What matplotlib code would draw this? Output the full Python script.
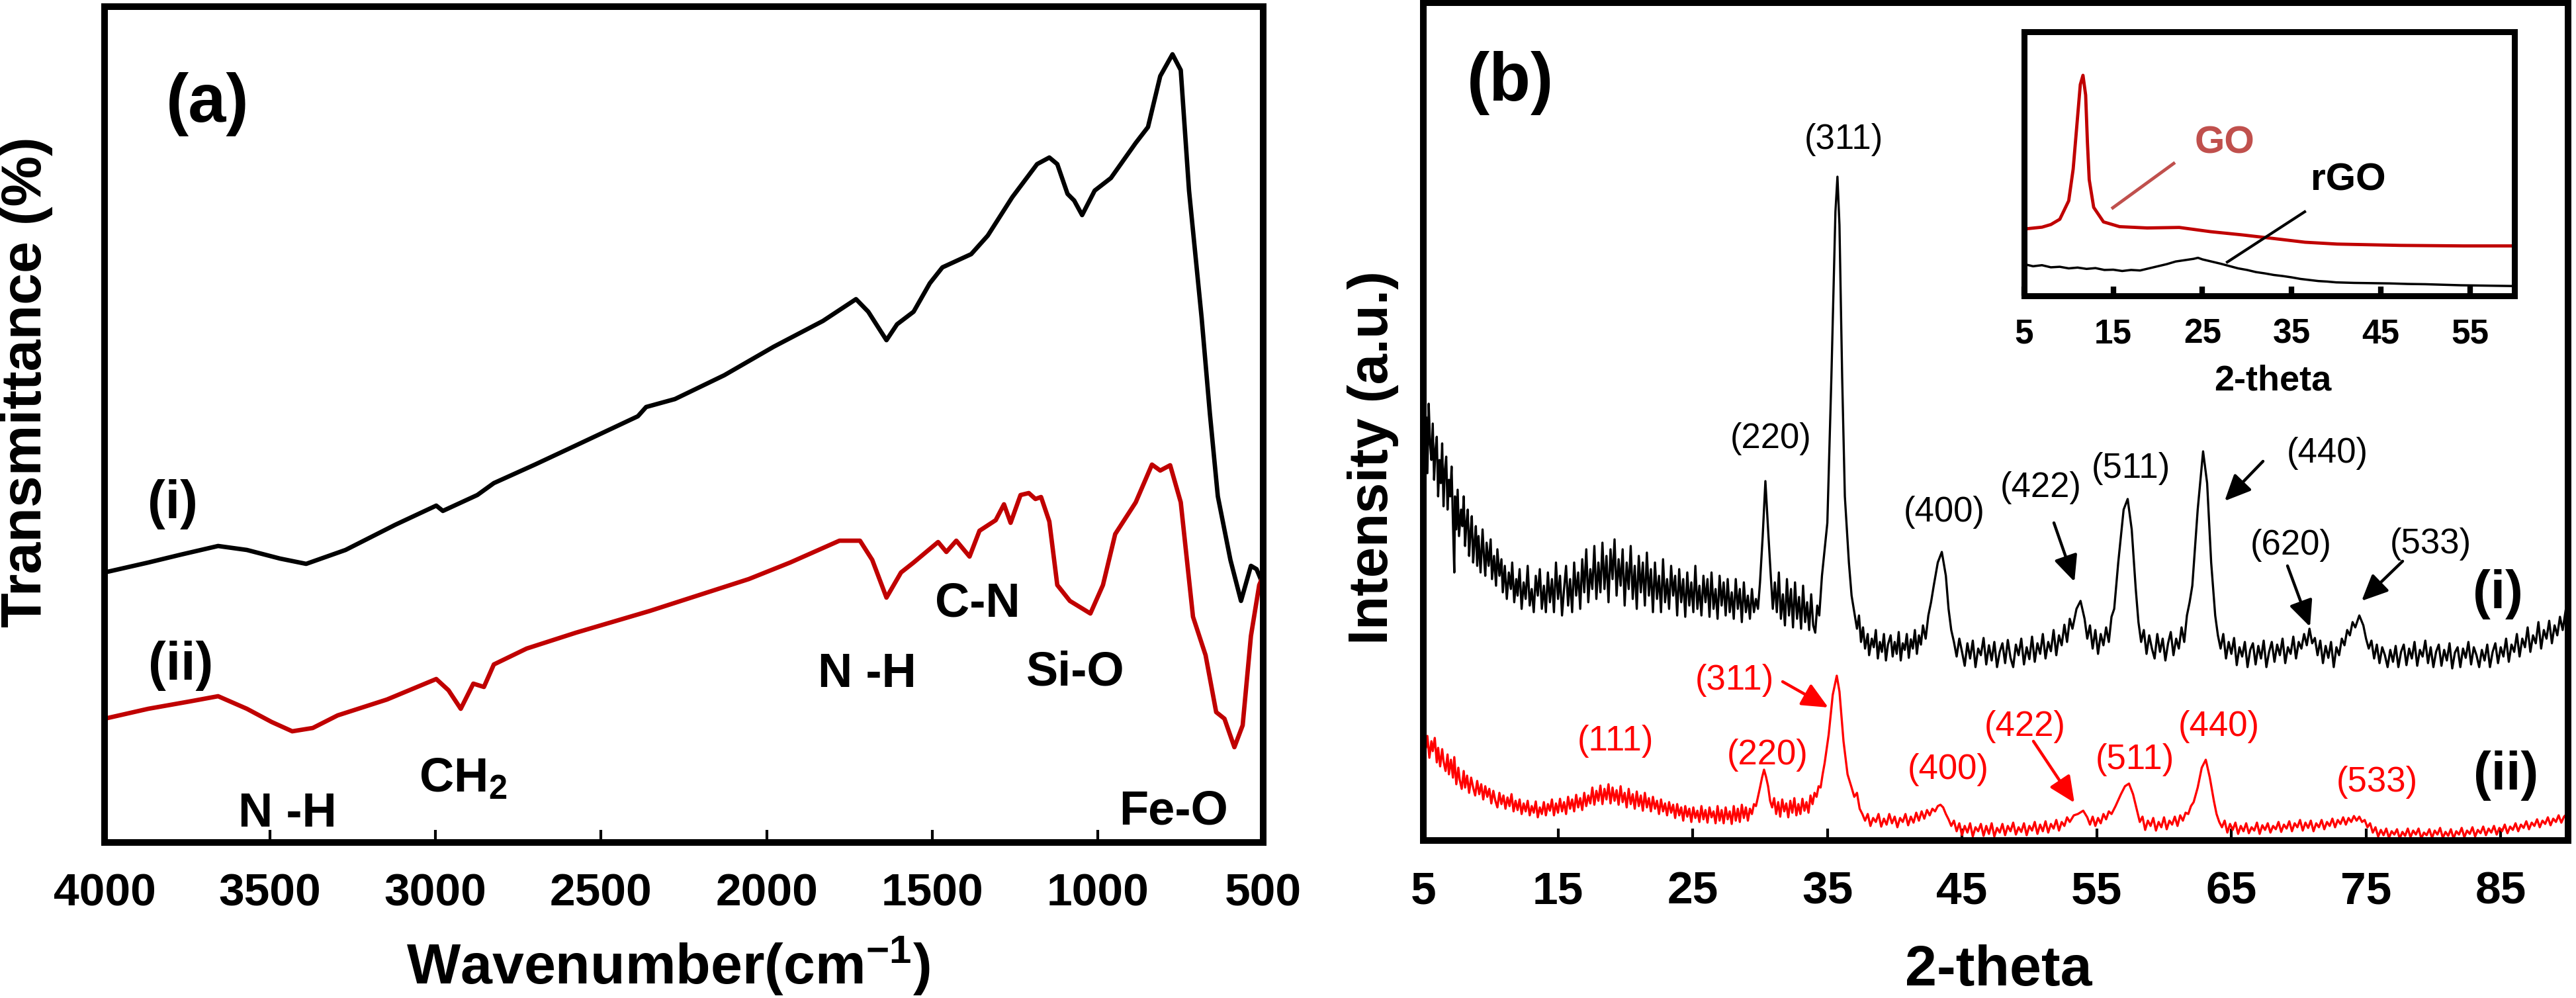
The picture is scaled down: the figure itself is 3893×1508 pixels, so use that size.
import matplotlib
matplotlib.use('Agg')
import matplotlib.pyplot as plt

plt.rcParams['font.family'] = ['Liberation Sans', 'DejaVu Sans']
plt.rcParams['font.weight'] = 'bold'
plt.rcParams['mathtext.fontset'] = 'custom'
plt.rcParams['mathtext.rm'] = 'Liberation Sans:bold'
plt.rcParams['mathtext.bf'] = 'Liberation Sans:bold'
plt.rcParams['mathtext.it'] = 'Liberation Sans:bold'

W, H, DPI = 3893, 1508, 100

# ---------------- FTIR data (panel a) ----------------
ftir_i_wn = [4000, 3868, 3769, 3657, 3570, 3470, 3391, 3272, 3122, 2998, 2978, 2874, 2824,
             2700, 2576, 2389, 2364, 2277, 2128, 1979, 1830, 1730, 1693, 1656, 1638, 1606,
             1556, 1507, 1469, 1382, 1332, 1258, 1183, 1146, 1122, 1091, 1071, 1047, 1009,
             960, 885, 848, 811, 774, 749, 724, 686, 661, 637, 599, 567, 537, 520, 500]
ftir_i_T = [408, 423, 435, 448, 442, 429, 421, 442, 480, 509, 501, 525, 543,
            571, 600, 644, 658, 670, 706, 749, 788, 821, 802, 773, 759, 783,
            802, 845, 869, 889, 917, 975, 1025, 1035, 1025, 980, 970, 948, 985,
            1004, 1057, 1081, 1158, 1191, 1167, 985, 793, 648, 523, 427, 365, 418, 413, 389]

ftir_ii_wn = [4000, 3868, 3744, 3657, 3570, 3495, 3433, 3371, 3296, 3147, 2998, 2961, 2924,
              2886, 2854, 2824, 2725, 2576, 2352, 2203, 2054, 1929, 1780, 1718, 1681, 1638,
              1594, 1556, 1482, 1457, 1427, 1387, 1357, 1308, 1283, 1263, 1233, 1208, 1188,
              1171, 1146, 1122, 1084, 1022, 984, 947, 885, 836, 811, 781, 749, 712, 674,
              642, 617, 587, 562, 537, 512, 500]
ftir_ii_T = [187, 202, 213, 221, 202, 182, 168, 173, 192, 216, 247, 230, 202,
             240, 235, 269, 293, 317, 350, 374, 398, 423, 456, 456, 427, 370,
             408, 423, 454, 439, 456, 432, 471, 487, 511, 483, 525, 528, 519,
             522, 485, 389, 365, 346, 389, 466, 514, 571, 562, 570, 514, 341, 283,
             197, 187, 144, 177, 312, 389, 403]

ftir_ticks = [4000, 3500, 3000, 2500, 2000, 1500, 1000, 500]

# ---------------- XRD data (panel b) ----------------
xrd_i = [
    (5.0, 674), (5.1, 600), (5.2, 640), (5.3, 555), (5.4, 660), (5.5, 600), (5.6, 575), (5.7, 630),
    (5.8, 545), (5.9, 590), (6.0, 610), (6.1, 520), (6.2, 575), (6.3, 540), (6.4, 600), (6.5, 505),
    (6.6, 560), (6.7, 580), (6.8, 500), (6.9, 545), (7.0, 520), (7.1, 565), (7.2, 480), (7.3, 405),
    (7.35, 520), (7.45, 470), (7.55, 530), (7.65, 460), (7.8, 500), (7.9, 475), (8.0, 520),
    (8.1, 445), (8.2, 480), (8.3, 500), (8.4, 430), (8.5, 465), (8.6, 490), (8.7, 420), (8.8, 450),
    (8.9, 475), (9.0, 415), (9.1, 460), (9.25, 405), (9.4, 470), (9.5, 430), (9.6, 400), (9.7, 450),
    (9.85, 415), (10.0, 455), (10.1, 395), (10.25, 430), (10.4, 385), (10.5, 440), (10.65, 400),
    (10.8, 425), (10.9, 375), (11.05, 415), (11.2, 365), (11.35, 405), (11.5, 380), (11.6, 420),
    (11.75, 360), (11.9, 395), (12.0, 370), (12.15, 410), (12.3, 350), (12.45, 390), (12.6, 365),
    (12.75, 415), (12.9, 355), (13.05, 380), (13.2, 345), (13.35, 400), (13.5, 370), (13.65, 410),
    (13.8, 350), (13.95, 385), (14.1, 345), (14.25, 405), (14.4, 360), (14.55, 395), (14.7, 345),
    (14.85, 420), (15.0, 365), (15.15, 400), (15.3, 340), (15.45, 380), (15.6, 415), (15.75, 355),
    (15.9, 395), (16.05, 345), (16.2, 420), (16.35, 370), (16.5, 405), (16.65, 350), (16.8, 425),
    (16.95, 375), (17.1, 440), (17.25, 360), (17.4, 410), (17.55, 380), (17.7, 445), (17.85, 365),
    (18.0, 420), (18.15, 375), (18.3, 450), (18.45, 380), (18.6, 430), (18.75, 360), (18.9, 440),
    (19.05, 395), (19.2, 455), (19.35, 370), (19.5, 425), (19.65, 385), (19.8, 440), (19.95, 355),
    (20.1, 420), (20.25, 380), (20.4, 445), (20.55, 365), (20.7, 415), (20.85, 350), (21.0, 430),
    (21.15, 375), (21.3, 420), (21.45, 355), (21.6, 435), (21.75, 370), (21.9, 410), (22.05, 345),
    (22.2, 420), (22.35, 365), (22.5, 400), (22.65, 345), (22.8, 425), (22.95, 360), (23.1, 395),
    (23.25, 350), (23.4, 415), (23.55, 370), (23.7, 400), (23.85, 340), (24.0, 410), (24.15, 360),
    (24.3, 395), (24.45, 338), (24.6, 405), (24.75, 355), (24.9, 390), (25.05, 345), (25.2, 415),
    (25.35, 350), (25.5, 385), (25.65, 340), (25.8, 400), (25.95, 360), (26.1, 395), (26.25, 338),
    (26.4, 405), (26.55, 350), (26.7, 380), (26.85, 335), (27.0, 400), (27.15, 355), (27.3, 390),
    (27.45, 340), (27.6, 395), (27.75, 345), (27.9, 375), (28.05, 335), (28.2, 395), (28.35, 350),
    (28.5, 380), (28.65, 330), (28.8, 390), (28.95, 345), (29.1, 370), (29.25, 335), (29.4, 380),
    (29.55, 345), (29.7, 365), (29.85, 350), (30.0, 390), (30.2, 460), (30.4, 543), (30.6, 470),
    (30.8, 400), (30.95, 350), (31.1, 390), (31.25, 345), (31.4, 405), (31.55, 335), (31.7, 372),
    (31.85, 325), (32.0, 395), (32.15, 340), (32.3, 380), (32.45, 322), (32.6, 390), (32.75, 335),
    (32.9, 368), (33.05, 320), (33.2, 385), (33.35, 330), (33.5, 360), (33.65, 318), (33.8, 372),
    (33.95, 325), (34.1, 314), (34.25, 355), (34.4, 340), (34.6, 400), (35.0, 480), (35.3, 700),
    (35.6, 950), (35.75, 1003), (35.9, 930), (36.1, 700), (36.3, 520), (36.6, 420), (36.8, 370),
    (37.0, 345), (37.2, 320), (37.35, 340), (37.5, 300), (37.65, 322), (37.8, 290), (38.0, 312),
    (38.1, 280), (38.3, 305), (38.45, 292), (38.6, 318), (38.75, 275), (38.9, 300), (39.05, 285),
    (39.2, 312), (39.35, 272), (39.5, 296), (39.7, 310), (39.85, 278), (40.0, 300), (40.15, 282),
    (40.3, 315), (40.45, 272), (40.6, 298), (40.75, 288), (40.9, 312), (41.05, 276), (41.2, 304),
    (41.35, 290), (41.5, 318), (41.65, 282), (41.8, 310), (41.95, 296), (42.1, 325), (42.3, 305),
    (42.5, 340), (42.7, 360), (42.9, 385), (43.2, 420), (43.5, 436), (43.8, 400), (44.0, 350),
    (44.2, 318), (44.4, 300), (44.6, 278), (44.8, 305), (45.0, 285), (45.2, 264), (45.4, 298),
    (45.6, 275), (45.8, 302), (46.0, 262), (46.2, 290), (46.4, 280), (46.6, 306), (46.8, 266),
    (47.0, 295), (47.2, 272), (47.4, 300), (47.6, 262), (47.8, 285), (48.0, 298), (48.2, 268),
    (48.4, 303), (48.6, 276), (48.8, 262), (49.0, 296), (49.2, 280), (49.4, 305), (49.6, 266),
    (49.8, 292), (50.0, 274), (50.2, 308), (50.4, 270), (50.6, 298), (50.8, 282), (51.0, 312),
    (51.2, 275), (51.4, 300), (51.6, 286), (51.8, 318), (52.0, 280), (52.2, 310), (52.4, 295),
    (52.6, 326), (52.8, 300), (53.0, 335), (53.2, 320), (53.5, 350), (53.8, 362), (54.1, 335),
    (54.3, 305), (54.5, 325), (54.7, 290), (54.9, 318), (55.1, 282), (55.3, 312), (55.5, 295),
    (55.7, 322), (55.9, 300), (56.1, 338), (56.3, 350), (56.6, 420), (57.0, 500), (57.3, 516),
    (57.6, 470), (57.9, 380), (58.1, 330), (58.3, 300), (58.5, 318), (58.7, 282), (58.9, 310),
    (59.1, 290), (59.3, 275), (59.5, 312), (59.7, 285), (59.9, 305), (60.1, 272), (60.3, 298),
    (60.5, 315), (60.7, 280), (60.9, 305), (61.1, 290), (61.3, 322), (61.5, 300), (61.7, 340),
    (61.9, 360), (62.1, 385), (62.5, 500), (62.9, 588), (63.2, 540), (63.5, 420), (63.8, 340),
    (64.0, 310), (64.2, 290), (64.4, 312), (64.6, 275), (64.8, 300), (65.0, 282), (65.2, 306),
    (65.4, 265), (65.6, 292), (65.8, 278), (66.0, 300), (66.2, 262), (66.4, 288), (66.6, 298),
    (66.8, 266), (67.0, 294), (67.2, 275), (67.4, 302), (67.6, 262), (67.8, 285), (68.0, 300),
    (68.2, 270), (68.4, 296), (68.6, 280), (68.8, 305), (69.0, 268), (69.2, 292), (69.4, 282),
    (69.6, 308), (69.8, 275), (70.0, 300), (70.2, 290), (70.4, 312), (70.6, 295), (70.8, 320),
    (71.0, 298), (71.2, 306), (71.4, 280), (71.6, 302), (71.8, 268), (72.0, 294), (72.2, 276),
    (72.4, 300), (72.6, 262), (72.8, 292), (73.0, 280), (73.2, 305), (73.4, 295), (73.6, 318),
    (73.8, 310), (74.0, 330), (74.2, 322), (74.5, 340), (74.8, 325), (75.0, 305), (75.2, 290),
    (75.4, 302), (75.6, 275), (75.8, 296), (76.0, 268), (76.2, 292), (76.4, 280), (76.6, 262),
    (76.8, 288), (77.0, 270), (77.2, 294), (77.4, 262), (77.6, 285), (77.8, 296), (78.0, 265),
    (78.2, 290), (78.4, 275), (78.6, 300), (78.8, 264), (79.0, 288), (79.2, 278), (79.4, 302),
    (79.6, 268), (79.8, 292), (80.0, 262), (80.2, 285), (80.4, 296), (80.6, 264), (80.8, 288),
    (81.0, 272), (81.2, 298), (81.4, 260), (81.6, 284), (81.8, 292), (82.0, 262), (82.2, 290),
    (82.4, 276), (82.6, 300), (82.8, 266), (83.0, 292), (83.2, 280), (83.4, 262), (83.6, 288),
    (83.8, 272), (84.0, 296), (84.2, 262), (84.4, 285), (84.6, 298), (84.8, 268), (85.0, 292),
    (85.2, 278), (85.4, 305), (85.6, 270), (85.8, 296), (86.0, 285), (86.2, 312), (86.4, 278),
    (86.6, 305), (86.8, 292), (87.0, 322), (87.2, 285), (87.4, 310), (87.6, 298), (87.8, 330),
    (88.0, 290), (88.2, 318), (88.4, 305), (88.6, 332), (88.8, 298), (89.0, 325), (89.2, 310),
    (89.4, 338), (89.6, 318), (89.8, 345), (90.0, 371)]

xrd_ii = [
    (5.1, 165), (5.2, 140), (5.3, 158), (5.45, 125), (5.6, 150), (5.7, 135), (5.85, 155), (6.0, 118),
    (6.1, 140), (6.25, 112), (6.4, 138), (6.5, 120), (6.65, 105), (6.8, 130), (6.9, 100), (7.05, 122),
    (7.2, 95), (7.3, 126), (7.45, 85), (7.6, 110), (7.7, 92), (7.85, 78), (8.0, 105), (8.1, 80),
    (8.25, 98), (8.4, 72), (8.55, 95), (8.7, 80), (8.85, 68), (9.0, 90), (9.15, 70), (9.3, 85),
    (9.45, 62), (9.6, 82), (9.75, 66), (9.9, 78), (10.05, 56), (10.2, 75), (10.35, 60), (10.5, 50),
    (10.65, 72), (10.8, 55), (10.95, 68), (11.1, 48), (11.25, 65), (11.4, 52), (11.55, 70), (11.7, 44),
    (11.85, 60), (12.0, 46), (12.15, 62), (12.3, 40), (12.45, 56), (12.6, 44), (12.75, 60), (12.9, 38),
    (13.05, 52), (13.2, 42), (13.35, 59), (13.5, 35), (13.65, 50), (13.8, 40), (13.95, 58), (14.1, 38),
    (14.25, 55), (14.4, 45), (14.55, 62), (14.7, 38), (14.85, 56), (15.0, 42), (15.15, 63), (15.3, 44),
    (15.45, 58), (15.6, 40), (15.75, 66), (15.9, 48), (16.05, 62), (16.2, 44), (16.35, 69), (16.5, 50),
    (16.65, 64), (16.8, 46), (16.95, 72), (17.1, 52), (17.25, 68), (17.4, 56), (17.55, 80), (17.7, 54),
    (17.85, 75), (18.0, 60), (18.15, 83), (18.3, 55), (18.45, 78), (18.6, 62), (18.75, 85), (18.9, 56),
    (19.05, 80), (19.2, 60), (19.35, 76), (19.5, 54), (19.65, 82), (19.8, 58), (19.95, 72), (20.1, 50),
    (20.25, 78), (20.4, 55), (20.55, 70), (20.7, 48), (20.85, 74), (21.0, 52), (21.15, 68), (21.3, 45),
    (21.45, 72), (21.6, 50), (21.75, 64), (21.9, 44), (22.05, 66), (22.2, 48), (22.35, 60), (22.5, 40),
    (22.65, 62), (22.8, 44), (22.95, 56), (23.1, 38), (23.25, 58), (23.4, 42), (23.55, 54), (23.7, 34),
    (23.85, 55), (24.0, 38), (24.15, 50), (24.3, 30), (24.45, 52), (24.6, 36), (24.75, 48), (24.9, 28),
    (25.05, 50), (25.2, 34), (25.35, 45), (25.5, 28), (25.65, 52), (25.8, 32), (25.95, 46), (26.1, 27),
    (26.25, 50), (26.4, 35), (26.55, 44), (26.7, 26), (26.85, 52), (27.0, 30), (27.15, 46), (27.3, 26),
    (27.45, 50), (27.6, 32), (27.75, 44), (27.9, 25), (28.05, 52), (28.2, 30), (28.35, 48), (28.5, 28),
    (28.65, 54), (28.8, 34), (28.95, 50), (29.1, 30), (29.25, 48), (29.4, 40), (29.55, 55), (29.7, 52),
    (29.85, 66), (30.0, 80), (30.15, 95), (30.3, 107), (30.45, 96), (30.6, 82), (30.75, 60), (30.9, 50),
    (31.05, 64), (31.2, 40), (31.35, 58), (31.5, 36), (31.65, 62), (31.8, 44), (31.95, 56), (32.1, 35),
    (32.25, 60), (32.4, 42), (32.55, 64), (32.7, 38), (32.85, 55), (33.0, 40), (33.15, 63), (33.3, 45),
    (33.45, 58), (33.6, 42), (33.75, 68), (33.9, 55), (34.05, 72), (34.2, 66), (34.35, 82), (34.5, 80),
    (34.65, 100), (34.8, 117), (35.1, 160), (35.4, 220), (35.7, 249), (35.9, 225), (36.2, 150),
    (36.5, 100), (36.8, 80), (37.0, 66), (37.2, 72), (37.4, 48), (37.6, 40), (37.8, 30), (38.0, 40),
    (38.2, 22), (38.4, 34), (38.6, 28), (38.8, 40), (39.0, 21), (39.2, 33), (39.4, 24), (39.6, 40),
    (39.8, 26), (40.0, 36), (40.2, 20), (40.4, 34), (40.6, 28), (40.8, 40), (41.0, 23), (41.2, 36),
    (41.4, 27), (41.6, 42), (41.8, 30), (42.0, 44), (42.2, 33), (42.4, 46), (42.6, 38), (42.8, 48),
    (43.0, 44), (43.2, 52), (43.4, 54), (43.6, 50), (43.8, 40), (44.0, 32), (44.2, 22), (44.4, 30),
    (44.6, 14), (44.8, 26), (45.0, 8), (45.2, 22), (45.4, 12), (45.6, 26), (45.8, 6), (46.0, 20),
    (46.2, 14), (46.4, 25), (46.6, 7), (46.8, 22), (47.0, 10), (47.2, 26), (47.4, 6), (47.6, 19),
    (47.8, 12), (48.0, 25), (48.2, 8), (48.4, 22), (48.6, 14), (48.8, 27), (49.0, 9), (49.2, 20),
    (49.4, 13), (49.6, 26), (49.8, 8), (50.0, 22), (50.2, 15), (50.4, 28), (50.6, 10), (50.8, 24),
    (51.0, 14), (51.2, 29), (51.4, 12), (51.6, 25), (51.8, 18), (52.0, 31), (52.2, 15), (52.4, 28),
    (52.6, 22), (52.8, 35), (53.0, 28), (53.3, 38), (53.6, 40), (54.0, 45), (54.3, 35), (54.5, 24),
    (54.7, 36), (54.9, 22), (55.1, 34), (55.3, 26), (55.5, 40), (55.7, 32), (55.9, 44), (56.1, 40),
    (56.4, 52), (56.8, 70), (57.1, 82), (57.4, 86), (57.7, 70), (58.0, 45), (58.2, 28), (58.4, 36),
    (58.6, 16), (58.8, 30), (59.0, 22), (59.2, 34), (59.4, 15), (59.6, 28), (59.8, 20), (60.0, 35),
    (60.2, 17), (60.4, 30), (60.6, 24), (60.8, 36), (61.0, 22), (61.2, 38), (61.4, 30), (61.6, 42),
    (61.8, 40), (62.0, 52), (62.2, 58), (62.5, 80), (62.8, 110), (63.1, 122), (63.4, 95), (63.7, 60),
    (63.9, 40), (64.1, 28), (64.3, 20), (64.5, 30), (64.7, 12), (64.9, 25), (65.1, 16), (65.3, 27),
    (65.5, 10), (65.7, 22), (65.9, 14), (66.1, 26), (66.3, 11), (66.5, 20), (66.7, 15), (66.9, 27),
    (67.1, 10), (67.3, 23), (67.5, 16), (67.7, 26), (67.9, 12), (68.1, 22), (68.3, 17), (68.5, 28),
    (68.7, 13), (68.9, 24), (69.1, 18), (69.3, 29), (69.5, 14), (69.7, 26), (69.9, 20), (70.1, 31),
    (70.3, 15), (70.5, 27), (70.7, 19), (70.9, 30), (71.1, 14), (71.3, 26), (71.5, 20), (71.7, 31),
    (71.9, 17), (72.1, 28), (72.3, 22), (72.5, 33), (72.7, 20), (72.9, 31), (73.1, 25), (73.3, 35),
    (73.5, 24), (73.7, 34), (73.9, 28), (74.1, 37), (74.3, 30), (74.5, 36), (74.7, 28), (74.9, 31),
    (75.1, 20), (75.3, 26), (75.5, 12), (75.7, 20), (75.9, 6), (76.1, 16), (76.3, 8), (76.5, 18),
    (76.7, 4), (76.9, 14), (77.1, 9), (77.3, 17), (77.5, 3), (77.7, 13), (77.9, 7), (78.1, 18),
    (78.3, 5), (78.5, 15), (78.7, 9), (78.9, 18), (79.1, 3), (79.3, 12), (79.5, 8), (79.7, 17),
    (79.9, 4), (80.1, 15), (80.3, 9), (80.5, 19), (80.7, 4), (80.9, 13), (81.1, 7), (81.3, 17),
    (81.5, 3), (81.7, 14), (81.9, 9), (82.1, 19), (82.3, 5), (82.5, 15), (82.7, 10), (82.9, 20),
    (83.1, 6), (83.3, 16), (83.5, 11), (83.7, 21), (83.9, 8), (84.1, 18), (84.3, 12), (84.5, 22),
    (84.7, 9), (84.9, 19), (85.1, 14), (85.3, 24), (85.5, 11), (85.7, 21), (85.9, 16), (86.1, 26),
    (86.3, 14), (86.5, 24), (86.7, 19), (86.9, 29), (87.1, 17), (87.3, 27), (87.5, 22), (87.7, 32),
    (87.9, 20), (88.1, 30), (88.3, 25), (88.5, 35), (88.7, 23), (88.9, 33), (89.1, 28), (89.3, 38),
    (89.5, 27), (89.7, 36), (89.9, 40)]

xrd_ticks = [5, 15, 25, 35, 45, 55, 65, 75, 85]

# ---------------- Inset data (GO / rGO) ----------------
go_x = [5, 7, 8, 9, 10, 10.5, 11, 11.3, 11.6, 11.9, 12.1, 12.3, 12.8, 13.9, 15.7, 18.8,
        22.4, 25.9, 29.4, 33.0, 36.5, 40.1, 47.2, 54.3, 60]
go_y = [25.3, 26, 27, 29, 36, 48, 68, 80, 83.5, 76, 58, 44, 33.5, 28, 26.2, 25.7,
        25.9, 24.3, 23.1, 21.7, 20.3, 19.6, 19.1, 18.9, 18.9]
rgo_x = [5, 6, 7, 8, 9, 10, 11, 12, 13, 14, 15, 16, 17, 18, 19, 20, 21, 22, 23, 24, 24.5, 25,
         26, 27, 28, 29, 30, 31, 32, 33, 34, 35, 36, 37, 38, 39, 40, 42, 44, 46, 48, 50, 52,
         54, 56, 58, 60]
rgo_y = [12.0, 11.2, 11.6, 10.8, 11.0, 10.4, 10.7, 10.2, 10.5, 9.8, 9.9, 9.4, 9.8, 9.6, 10.4,
         11.2, 12.0, 13.0, 13.5, 14.0, 14.4, 13.8, 13.0, 12.2, 11.3, 10.4, 9.8, 9.0, 8.5, 7.9,
         7.5, 7.0, 6.4, 6.0, 5.6, 5.4, 5.1, 4.9, 4.8, 4.7, 4.5, 4.4, 4.2, 4.0, 3.9, 3.8, 3.7]
inset_ticks = [5, 15, 25, 35, 45, 55]

# ---------------- figure ----------------
fig = plt.figure(figsize=(W / DPI, H / DPI), dpi=DPI)


def box(l, t, r, b):
    return [l / W, 1 - b / H, (r - l) / W, (b - t) / H]


def ftext(x, y, s, **kw):
    kw.setdefault('ha', 'center')
    kw.setdefault('va', 'center')
    fig.text(x / W, 1 - y / H, s, **kw)


def arrow(x0, y0, x1, y1, color):
    fig.add_artist(matplotlib.patches.FancyArrowPatch(
        (x0, H - y0), (x1, H - y1), transform=None,
        arrowstyle='-|>,head_length=1.2,head_width=0.55',
        mutation_scale=20, color=color, lw=3.2, shrinkA=0, shrinkB=0))


def style_axes(ax, lw, tlen, twid, lsize, pad):
    for sp in ax.spines.values():
        sp.set_linewidth(lw)
        sp.set_capstyle('projecting')
    ax.set_yticks([])
    ax.tick_params(axis='x', direction='in', length=tlen, width=twid, labelsize=lsize,
                   pad=pad, top=False)
    for lab in ax.get_xticklabels():
        lab.set_fontweight('bold')


# Panel (a)
axa = fig.add_axes(box(158, 10, 1909, 1273))
axa.plot(ftir_i_wn, ftir_i_T, color='black', lw=4.8, solid_joinstyle='round')
axa.plot(ftir_ii_wn, ftir_ii_T, color='#C00000', lw=4.8, solid_joinstyle='round')
axa.set_xlim(4000, 500)
axa.set_ylim(0, 1263)
axa.set_xticks(ftir_ticks)
style_axes(axa, 7.2, 14, 3, 50, 33)

# Panel (b)
axb = fig.add_axes(box(2151, 4, 3881, 1270))
axb.plot([p[0] for p in xrd_i], [p[1] for p in xrd_i], color='black', lw=2.4)
axb.plot([p[0] for p in xrd_ii], [p[1] for p in xrd_ii], color='#FF0000', lw=2.4)
axb.set_xlim(5, 90)
axb.set_ylim(0, 1266)
axb.set_xticks(xrd_ticks)
style_axes(axb, 7.2, 13, 3, 50, 33)

# Inset
axi = fig.add_axes(box(3059, 48, 3800, 447))
axi.plot(go_x, go_y, color='#C00000', lw=3.5)
axi.plot(rgo_x, rgo_y, color='black', lw=2.5)
axi.set_xlim(5, 60)
axi.set_ylim(0, 100)
axi.set_xticks(inset_ticks)
style_axes(axi, 6.5, 10, 6, 37, 24)

# Axis labels
ftext(40, 577, 'Transmittance (%)', rotation=90, fontsize=62, fontweight='bold')
ftext(1010, 1487, r'Wavenumber(cm$^{-1}$)', va='baseline', fontsize=62, fontweight='bold')
ftext(2075, 692, 'Intensity (a.u.)', rotation=90, fontsize=60, fontweight='bold')
ftext(3020, 1489, '2-theta', va='baseline', fontsize=62, fontweight='bold')
ftext(3435, 575, '2-theta', fontsize=39, fontweight='bold')

# Panel (a) annotations
ftext(314, 158, '(a)', fontsize=74, fontweight='bold')
ftext(261, 762, '(i)', fontsize=58, fontweight='bold')
ftext(273, 1006, '(ii)', fontsize=58, fontweight='bold')
ftext(434, 1249, 'N -H', va='baseline', fontsize=52, fontweight='bold')
ftext(700, 1197, r'CH$_2$', va='baseline', fontsize=52, fontweight='bold')
ftext(1310, 1038, 'N -H', va='baseline', fontsize=52, fontweight='bold')
ftext(1477, 932, 'C-N', va='baseline', fontsize=52, fontweight='bold')
ftext(1625, 1036, 'Si-O', va='baseline', fontsize=52, fontweight='bold')
ftext(1773, 1245, 'Fe-O', va='baseline', fontsize=52, fontweight='bold')

# Panel (b) annotations
ftext(2283, 125, '(b)', fontsize=74, fontweight='bold')
ftext(3775, 898, '(i)', fontsize=58, fontweight='bold')
ftext(3787, 1172, '(ii)', fontsize=58, fontweight='bold')

black_hkl = [('(311)', 2786, 211), ('(220)', 2676, 663), ('(400)', 2938, 774), ('(422)', 3084, 737),
             ('(511)', 3220, 708), ('(440)', 3517, 685), ('(620)', 3462, 824), ('(533)', 3673, 822)]
red_hkl = [('(311)', 2621, 1028), ('(111)', 2441, 1120), ('(220)', 2671, 1141), ('(400)', 2944, 1163),
           ('(422)', 3060, 1098), ('(511)', 3226, 1148), ('(440)', 3353, 1098), ('(533)', 3592, 1182)]
for s, x, y in black_hkl:
    ftext(x, y, s, fontsize=38, fontweight='normal', color='black')
for s, x, y in red_hkl:
    ftext(x, y, s, fontsize=38, fontweight='normal', color='#FF0000')

arrow(3104, 790, 3135, 879, 'black')
arrow(3420, 697, 3362, 757, 'black')
arrow(3457, 855, 3491, 947, 'black')
arrow(3631, 848, 3569, 908, 'black')
arrow(2694, 1030, 2763, 1069, '#FF0000')
arrow(3073, 1120, 3135, 1213, '#FF0000')

# Inset annotations
ftext(3362, 217, 'GO', fontsize=42, fontweight='bold', color='#C0504D')
ftext(3549, 273, 'rGO', fontsize=42, fontweight='bold', color='black')
fig.add_artist(matplotlib.lines.Line2D([3193, 3285], [H - 314, H - 247], transform=None,
                                       color='#C0504D', lw=3.5))
fig.add_artist(matplotlib.lines.Line2D([3366, 3483], [H - 396, H - 320], transform=None,
                                       color='black', lw=3.0))

fig.savefig('out.png', dpi=DPI)
